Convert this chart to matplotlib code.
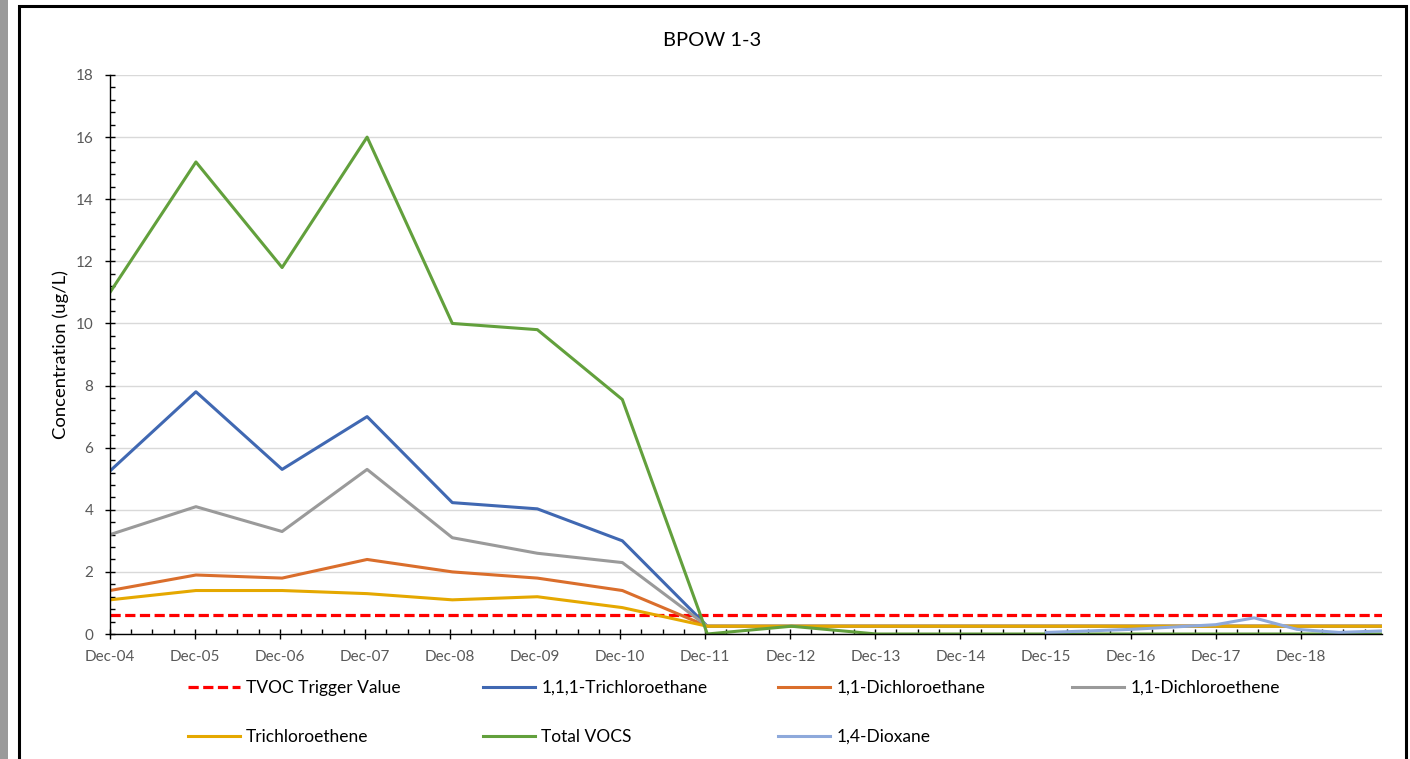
import numpy as np
import pandas as pd
import matplotlib
matplotlib.use('Agg')
import matplotlib.pyplot as plt
import matplotlib.dates as mdates
from matplotlib.ticker import MultipleLocator
from matplotlib.patches import Rectangle

plt.rcParams['font.family'] = ['Lato', 'DejaVu Sans']

# sample dates (annual to 2017, then semi-annual)
dates = pd.to_datetime([
    '2004-12-01', '2005-12-05', '2006-12-10', '2007-12-10', '2008-12-10',
    '2009-12-10', '2010-12-10', '2011-12-10', '2012-12-05', '2013-12-05',
    '2014-12-05', '2015-12-05', '2016-12-05', '2017-12-01', '2018-05-15',
    '2018-11-15', '2019-05-15', '2019-11-15',
])
nan = np.nan
tvoc_trigger = [0.6] * 18
tca_111 = [5.25, 7.8, 5.3, 7.0, 4.23, 4.03, 3.0, 0.25, 0.25, 0.25,
           0.25, 0.25, 0.25, 0.25, 0.25, 0.25, 0.25, 0.25]
dca_11 = [1.4, 1.9, 1.8, 2.4, 2.0, 1.8, 1.4, 0.25, 0.25, 0.25,
          0.25, 0.25, 0.25, 0.25, 0.25, 0.25, 0.25, 0.25]
dce_11 = [3.2, 4.1, 3.3, 5.3, 3.1, 2.6, 2.3, 0.25, 0.25, 0.25,
          0.25, 0.25, 0.25, 0.25, 0.25, 0.25, 0.25, 0.25]
tce = [1.1, 1.4, 1.4, 1.3, 1.1, 1.2, 0.85, 0.25, 0.25, 0.25,
       0.25, 0.25, 0.25, 0.25, 0.25, 0.25, 0.25, 0.25]
total_vocs = [11.0, 15.2, 11.8, 16.0, 10.0, 9.8, 7.55, 0.0, 0.25, 0.0,
              0.0, 0.0, 0.0, 0.0, 0.0, 0.0, 0.0, 0.0]
dioxane = [nan, nan, nan, nan, nan, nan, nan, nan, nan, nan,
           nan, 0.05, 0.15, 0.3, 0.52, 0.15, 0.05, 0.1]

series = [
    ('TVOC Trigger Value', tvoc_trigger, '#FF0000', '--'),
    ('1,1,1-Trichloroethane', tca_111, '#4068B2', '-'),
    ('1,1-Dichloroethane', dca_11, '#DA6E2C', '-'),
    ('1,1-Dichloroethene', dce_11, '#9A9A9A', '-'),
    ('Trichloroethene', tce, '#E5A800', '-'),
    ('Total VOCS', total_vocs, '#62A03C', '-'),
    ('1,4-Dioxane', dioxane, '#8EA9DB', '-'),
]

fig = plt.figure(figsize=(14.1, 7.59), dpi=100)
ax = fig.add_axes([110 / 1410, 1 - 634 / 759, (1382 - 110) / 1410, (634 - 75) / 759])

handles = {}
for name, vals, color, ls in series:
    if ls == '--':
        h, = ax.plot(dates, vals, color=color, lw=2.3, dashes=(3.2, 1.4), label=name)
    else:
        h, = ax.plot(dates, vals, color=color, lw=2.2, label=name)
    handles[name] = h

ax.set_xlim(dates[0], dates[-1])
ax.set_ylim(0, 18)
ax.yaxis.set_major_locator(MultipleLocator(2))
ax.yaxis.set_minor_locator(MultipleLocator(0.4))
ax.xaxis.set_major_locator(mdates.MonthLocator(bymonth=12))
ax.xaxis.set_minor_locator(mdates.MonthLocator(bymonth=(3, 6, 9)))
ax.xaxis.set_major_formatter(mdates.DateFormatter('%b-%y'))

ax.grid(axis='y', color='#D9D9D9', lw=1)
ax.set_axisbelow(True)
for s in ['top', 'right']:
    ax.spines[s].set_visible(False)
for s in ['left', 'bottom']:
    ax.spines[s].set_color('black')
    ax.spines[s].set_linewidth(1)

ax.tick_params(which='major', direction='inout', length=7, width=1, color='black',
               labelsize=11, labelcolor='#595959')
ax.tick_params(which='minor', direction='in', length=3.5, width=1, color='black')
ax.tick_params(axis='y', which='major', pad=8.5)
ax.tick_params(axis='x', which='major', pad=8)

ax.set_ylabel('Concentration (ug/L)', fontsize=13.3, color='black', labelpad=5)
fig.text(712 / 1410, 1 - 40 / 759, 'BPOW 1-3', ha='center', va='center', fontsize=14.5)

# legend: Excel-style row-major layout, one legend per column
columns = [
    ['TVOC Trigger Value', 'Trichloroethene'],
    ['1,1,1-Trichloroethane', 'Total VOCS'],
    ['1,1-Dichloroethane', '1,4-Dioxane'],
    ['1,1-Dichloroethene'],
]
col_x = [188, 483, 778, 1072]
for x0, names in zip(col_x, columns):
    fig.legend([handles[n] for n in names], names,
               loc='upper left', bbox_to_anchor=(x0 / 1410, 1 - 680 / 759),
               frameon=False, fontsize=12.5, handlelength=3.0,
               handletextpad=0.35, labelspacing=1.9,
               borderaxespad=0, borderpad=0)

# chart frame and gray page edge
fig.patches.append(Rectangle((0, 0), 8 / 1410, 1, transform=fig.transFigure,
                             facecolor='#9A9A9A', edgecolor='none'))
fig.patches.append(Rectangle((19 / 1410, -0.05), (1406 - 19) / 1410, 1.05 - 6 / 759,
                             transform=fig.transFigure, fill=False,
                             edgecolor='black', lw=2.2))

fig.savefig('out.png', dpi=100)
